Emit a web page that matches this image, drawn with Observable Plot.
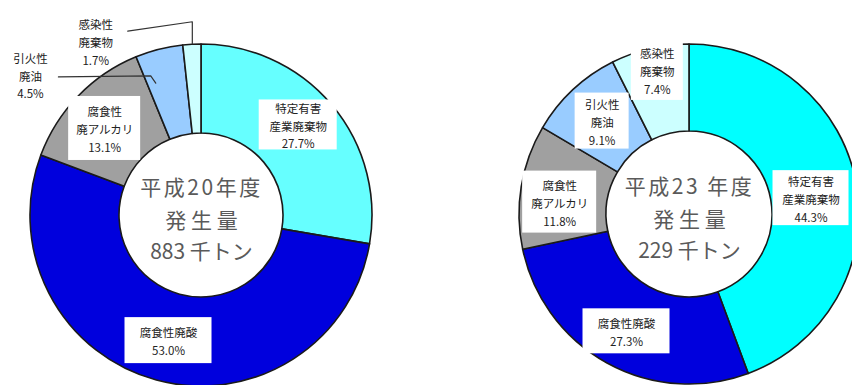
<!DOCTYPE html>
<html><head><meta charset="utf-8">
<script src="https://cdn.jsdelivr.net/npm/d3@7"></script>
<script src="https://cdn.jsdelivr.net/npm/@observablehq/plot@0.6"></script>
<style>html,body{margin:0;padding:0;background:#fff;} svg{display:block;}</style>
</head><body><div id="chart"></div>
<script>
// ---- data ----
const categories = ["特定有害産業廃棄物", "腐食性廃酸", "腐食性廃アルカリ", "引火性廃油", "感染性廃棄物"];
const labelLines = [["特定有害", "産業廃棄物"], ["腐食性廃酸"], ["腐食性", "廃アルカリ"], ["引火性", "廃油"], ["感染性", "廃棄物"]];
const pctH20 = [27.7, 53.0, 13.1, 4.5, 1.7];
const pctH23 = [44.3, 27.3, 11.8, 9.1, 7.4];
const years = ["平成20年度", "平成23 年度"];
const totals = [883, 229];

// ---- layout / style ----
const W = 852, H = 385;
const font = "'Noto Sans CJK JP', 'Noto Sans', sans-serif";
const charts = [
  {cx: 201, cy: 215, rIn: 82, rOut: 171, values: pctH20, year: years[0], total: totals[0],
   colors: ["#66FFFF", "#0000DD", "#A0A0A0", "#99CCFF", "#CCFFFF"],
   lab: [{dx: 0, dy: -9, w: 78, h: 50, box: true}, {dx: 0, dy: 3, w: 87, h: 46, box: true},
         {dx: -6, dy: 1, w: 72, h: 64, box: true}, {dx: -140, dy: -18, box: false},
         {dx: -99, dy: -48, box: false}]},
  {cx: 689, cy: 214, rIn: 83, rOut: 170, values: pctH23, year: years[1], total: totals[1],
   colors: ["#00FFFF", "#0000DD", "#A0A0A0", "#99CCFF", "#CCFFFF"],
   lab: [{dx: -3, dy: 6, w: 76, h: 55, box: true}, {dx: -2, dy: 6, w: 87, h: 45, box: true},
         {dx: -5, dy: 8, w: 74, h: 62, box: true}, {dx: -1, dy: -1, w: 54, h: 56, box: true},
         {dx: -3, dy: -21, w: 52, h: 60, box: true}]}
];

const pie = d3.pie().sort(null).value(d => d);
const slices = [];
const labels = [];
charts.forEach((c, ci) => {
  pie(c.values).forEach((a, i) => {
    const s = {chart: ci, cat: categories[i], value: c.values[i], a0: a.startAngle, a1: a.endAngle,
      cx: c.cx, cy: c.cy, rIn: c.rIn, rOut: c.rOut, color: c.colors[i]};
    slices.push(s);
    const mid = (s.a0 + s.a1) / 2, r = (c.rIn + c.rOut) / 2;
    const L = c.lab[i];
    labels.push({x: c.cx + r * Math.sin(mid) + L.dx, y: c.cy - r * Math.cos(mid) + L.dy,
      text: labelLines[i].join("\n") + "\n" + c.values[i].toFixed(1) + "%", w: L.w, h: L.h, box: L.box});
  });
});
const polar = (s, frac, r) => {
  const a = s.a0 + frac * (s.a1 - s.a0);
  return {x: s.cx + r * Math.sin(a), y: s.cy - r * Math.cos(a)};
};
// leader lines for the small slices of the left chart
const leaders = [];
{
  const lab = labels[3], s = slices[3];
  const end = polar(s, 0.2, 140);
  const start = {x: lab.x + 28, y: lab.y + 2};
  leaders.push({id: "a", ...start}, {id: "a", x: end.x - 5, y: start.y - 1}, {id: "a", ...end});
}
{
  const lab = labels[4], s = slices[4];
  const end = polar(s, 0.5, s.rOut + 1);
  const start = {x: lab.x + 32, y: lab.y - 10};
  leaders.push({id: "b", ...start}, {id: "b", x: end.x, y: end.y - 22}, {id: "b", ...end});
}

const yearLines = charts.map(c => ({x: c.cx, y: c.cy - 27, t: c.year}));
const centerLines = [];
charts.forEach(c => {
  centerLines.push({x: c.cx, y: c.cy + 6, t: "発 生 量"});
  centerLines.push({x: c.cx, y: c.cy + 37, t: c.total + " 千トン"});
});

const plot = Plot.plot({
  width: W, height: H, margin: 0,
  x: {domain: [0, W], range: [0, W], axis: null},
  y: {domain: [0, H], range: [0, H], axis: null},
  style: {background: "#fff", fontFamily: font},
  marks: [
    Plot.dot(slices, {x: "cx", y: "cy", render: (index, scales, values) => {
      const g = d3.create("svg:g");
      for (const i of index) {
        const s = slices[i];
        g.append("path")
          .attr("transform", `translate(${values.x[i]},${values.y[i]})`)
          .attr("d", d3.arc()({innerRadius: s.rIn, outerRadius: s.rOut, startAngle: s.a0, endAngle: s.a1}))
          .attr("fill", s.color).attr("stroke", "#1a1a1a").attr("stroke-width", 1.6)
          .attr("stroke-linejoin", "round");
      }
      return g.node();
    }}),
    Plot.rect(labels.filter(d => d.box), {
      x1: d => d.x - d.w / 2, x2: d => d.x + d.w / 2,
      y1: d => d.y - d.h / 2, y2: d => d.y + d.h / 2, fill: "#fff"}),
    Plot.line(leaders, {x: "x", y: "y", z: "id", stroke: "#333", strokeWidth: 1.2}),
    Plot.text(labels, {x: "x", y: "y", text: "text", fontSize: 11.5, lineHeight: 1.55,
      fill: "#222", fontFamily: font}),
    Plot.text(yearLines, {x: "x", y: "y", text: "t", fontSize: 21, fill: "#5a5a5a", fontFamily: font}),
    Plot.text(centerLines, {x: "x", y: "y", text: "t", fontSize: 21, fill: "#5a5a5a", fontFamily: font})
  ]
});
const tg = plot.querySelectorAll('g[aria-label="text"]');
if (tg.length >= 2) tg[tg.length - 2].setAttribute("letter-spacing", "2.5");
document.getElementById("chart").appendChild(plot);
</script></body></html>
